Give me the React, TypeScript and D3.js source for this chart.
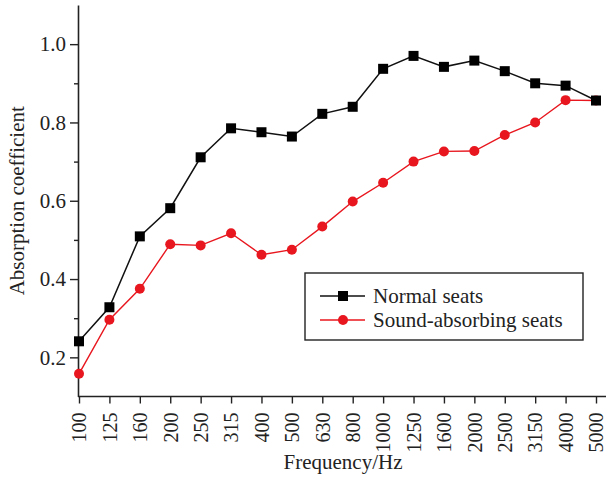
import React, { useEffect, useRef } from 'react';
import * as d3 from 'd3';

const frequencies = ['100', '125', '160', '200', '250', '315', '400', '500', '630', '800', '1000', '1250', '1600', '2000', '2500', '3150', '4000', '5000'];
const normalSeats = [0.241, 0.328, 0.509, 0.581, 0.711, 0.785, 0.775, 0.764, 0.822, 0.840, 0.937, 0.970, 0.942, 0.958, 0.931, 0.900, 0.894, 0.856];
const absorbingSeats = [0.158, 0.296, 0.375, 0.489, 0.486, 0.517, 0.462, 0.475, 0.534, 0.598, 0.646, 0.700, 0.726, 0.727, 0.768, 0.800, 0.857, 0.856];
const majorTicks = [0.2, 0.4, 0.6, 0.8, 1.0];
const minorTicks = [0.3, 0.5, 0.7, 0.9];
const legendLabels = ['Normal seats', 'Sound-absorbing seats'];

const RED = '#e8161e';
const FONT = '"Liberation Serif", "Times New Roman", serif';

const App = () => {
    const svgRef = useRef<SVGSVGElement>(null);

    useEffect(() => {
        const svg = d3.select(svgRef.current);
        svg.selectAll('*').remove();

        const left = 78;
        const right = 606;
        const bottom = 396.5;
        const top = 5;

        const x = d3.scalePoint<string>()
            .domain(frequencies)
            .range([79, 596]);

        const y = d3.scaleLinear()
            .domain([0.1, 1.1])
            .range([bottom, top]);

        // y axis
        const yAxis = svg.append('g')
            .attr('transform', `translate(${left},0)`)
            .call(d3.axisLeft(y).tickValues(majorTicks).tickSize(8).tickSizeOuter(0).tickPadding(4).tickFormat(d3.format('.1f')));
        yAxis.select('.domain').attr('stroke', '#222').attr('stroke-width', 1.6);
        yAxis.selectAll('.tick line').attr('stroke', '#222').attr('stroke-width', 1.4);
        yAxis.selectAll('.tick text').attr('font-family', FONT).attr('font-size', 21).attr('fill', '#222');

        svg.append('g')
            .attr('transform', `translate(${left},0)`)
            .call(d3.axisLeft(y).tickValues(minorTicks).tickSize(4).tickFormat(() => ''))
            .call(g => g.select('.domain').remove())
            .selectAll('.tick line').attr('stroke', '#222').attr('stroke-width', 1.4);

        // x axis
        const xAxis = svg.append('g')
            .attr('transform', `translate(0,${bottom})`)
            .call(d3.axisBottom(x).tickSize(7).tickSizeOuter(0));
        xAxis.select('.domain').remove();
        xAxis.selectAll('.tick line').attr('stroke', '#222').attr('stroke-width', 1.4);
        xAxis.selectAll('.tick text')
            .attr('font-family', FONT)
            .attr('font-size', 20)
            .attr('fill', '#222')
            .attr('transform', 'rotate(-90)')
            .attr('text-anchor', 'end')
            .attr('x', -16)
            .attr('y', 0)
            .attr('dy', '0.34em');

        svg.append('line')
            .attr('x1', left).attr('x2', right)
            .attr('y1', bottom).attr('y2', bottom)
            .attr('stroke', '#222').attr('stroke-width', 1.6);

        // axis titles
        svg.append('text')
            .attr('x', 343).attr('y', 469)
            .attr('text-anchor', 'middle')
            .attr('font-family', FONT).attr('font-size', 21).attr('fill', '#222')
            .text('Frequency/Hz');

        svg.append('text')
            .attr('transform', `translate(24,${(top + bottom) / 2}) rotate(-90)`)
            .attr('text-anchor', 'middle')
            .attr('font-family', FONT).attr('font-size', 21).attr('fill', '#222')
            .text('Absorption coefficient');

        const line = d3.line<number>()
            .x((d, i) => x(frequencies[i]) as number)
            .y(d => y(d));

        // sound-absorbing seats
        svg.append('path')
            .datum(absorbingSeats)
            .attr('d', line)
            .attr('fill', 'none')
            .attr('stroke', RED)
            .attr('stroke-width', 1.4);
        svg.append('g')
            .selectAll('circle')
            .data(absorbingSeats)
            .join('circle')
            .attr('cx', (d, i) => x(frequencies[i]) as number)
            .attr('cy', d => y(d))
            .attr('r', 5)
            .attr('fill', RED);

        // normal seats
        svg.append('path')
            .datum(normalSeats)
            .attr('d', line)
            .attr('fill', 'none')
            .attr('stroke', '#111')
            .attr('stroke-width', 1.5);
        svg.append('g')
            .selectAll('rect')
            .data(normalSeats)
            .join('rect')
            .attr('x', (d, i) => (x(frequencies[i]) as number) - 5)
            .attr('y', d => y(d) - 5)
            .attr('width', 10)
            .attr('height', 10)
            .attr('fill', '#000');

        // legend
        const legend = svg.append('g').attr('transform', 'translate(305,273)');
        legend.append('rect')
            .attr('width', 278).attr('height', 67)
            .attr('fill', 'white').attr('stroke', '#222').attr('stroke-width', 1.4);

        legendLabels.forEach((label, i) => {
            const cy = 23 + i * 24;
            const color = i === 0 ? '#111' : RED;
            legend.append('line')
                .attr('x1', 15).attr('x2', 60)
                .attr('y1', cy).attr('y2', cy)
                .attr('stroke', color).attr('stroke-width', 1.4);
            if (i === 0) {
                legend.append('rect')
                    .attr('x', 33).attr('y', cy - 5)
                    .attr('width', 10).attr('height', 10)
                    .attr('fill', '#000');
            } else {
                legend.append('circle')
                    .attr('cx', 38).attr('cy', cy).attr('r', 5)
                    .attr('fill', RED);
            }
            legend.append('text')
                .attr('x', 68).attr('y', cy)
                .attr('dy', '0.34em')
                .attr('font-family', FONT).attr('font-size', 21).attr('fill', '#222')
                .text(label);
        });
    }, []);

    return (
        <div style={{ position: 'absolute', left: 0, top: 0 }}>
            <svg ref={svgRef} width={606} height={485} style={{ display: 'block', background: 'white' }}></svg>
        </div>
    );
};

export default App;
